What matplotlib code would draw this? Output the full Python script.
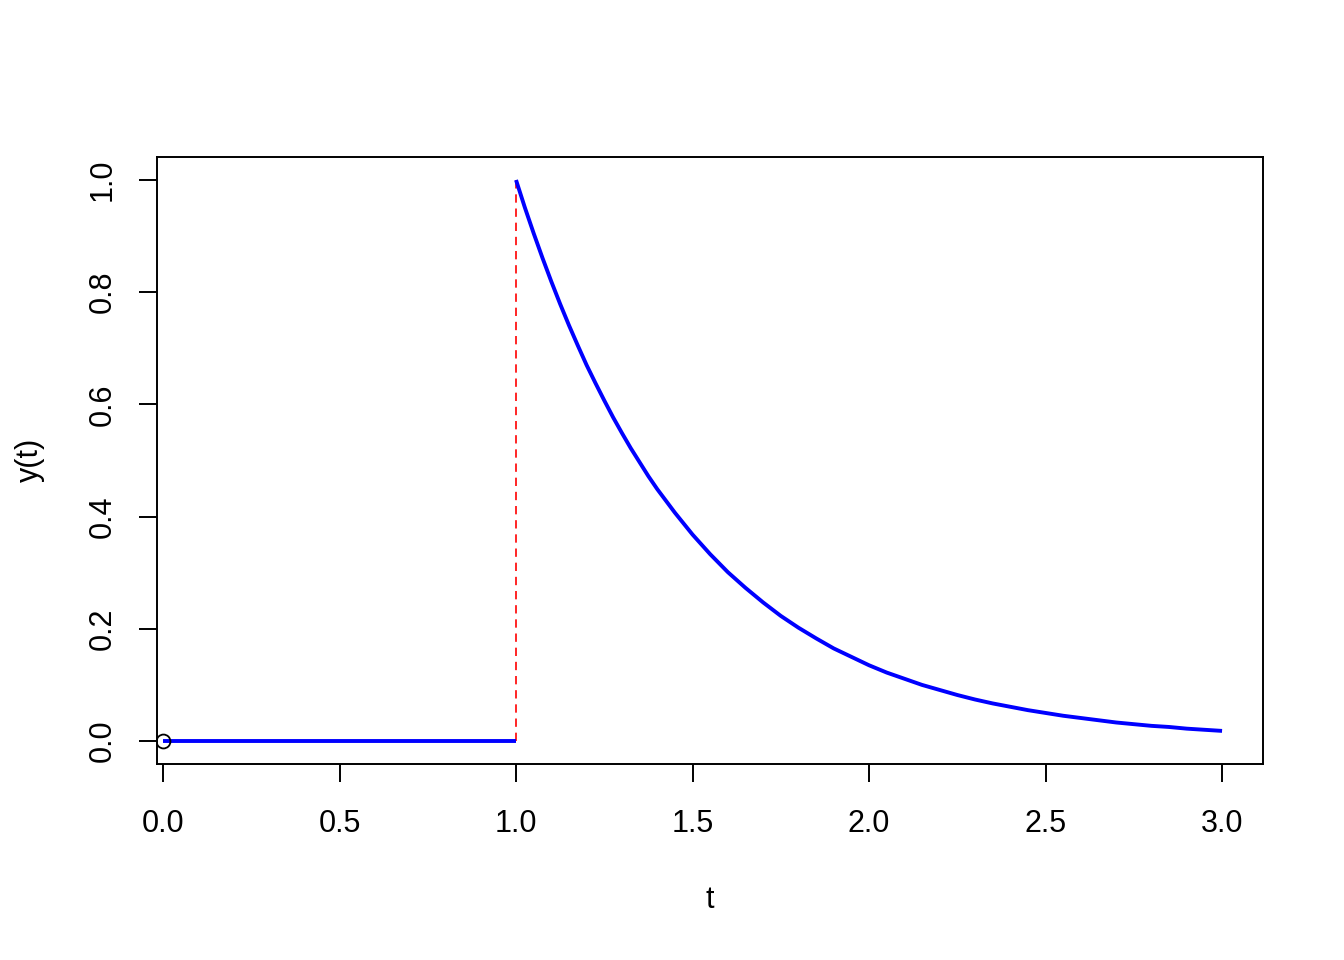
import matplotlib
matplotlib.use("Agg")
import matplotlib.pyplot as plt

plt.rcParams['font.family'] = ['Liberation Sans', 'DejaVu Sans']

# flat part before the jump
t_flat = [0.0, 1.0]
y_flat = [0.0, 0.0]

# decay after the jump
t_decay = [1.000, 1.025, 1.050, 1.075, 1.100, 1.125, 1.150, 1.175, 1.200, 1.225,
           1.250, 1.275, 1.300, 1.325, 1.350, 1.375, 1.40, 1.45,
           1.50, 1.55, 1.60, 1.65, 1.70, 1.75, 1.80, 1.85, 1.90, 1.95,
           2.00, 2.05, 2.10, 2.15, 2.20, 2.25, 2.30, 2.35, 2.40, 2.45,
           2.50, 2.55, 2.60, 2.65, 2.70, 2.75, 2.80, 2.85, 2.90, 2.95, 3.00]
y_decay = [1.000, 0.951, 0.905, 0.861, 0.819, 0.779, 0.741, 0.705, 0.670, 0.638,
           0.607, 0.577, 0.549, 0.522, 0.497, 0.472, 0.449, 0.407,
           0.368, 0.333, 0.301, 0.273, 0.247, 0.223, 0.202, 0.183, 0.165, 0.150,
           0.135, 0.122, 0.111, 0.100, 0.091, 0.082, 0.074, 0.067, 0.061, 0.055,
           0.050, 0.045, 0.041, 0.037, 0.033, 0.030, 0.027, 0.025, 0.022, 0.020, 0.018]

jump_t = 1.0
xticks = [0.0, 0.5, 1.0, 1.5, 2.0, 2.5, 3.0]
yticks = [0.0, 0.2, 0.4, 0.6, 0.8, 1.0]

fig = plt.figure(figsize=(13.44, 9.6), dpi=100)
ax = fig.add_axes([157/1344, 1-764/960, (1263-157)/1344, (764-157)/960])

ax.plot([jump_t, jump_t], [0, 1], color='red', lw=1.2, ls=(0, (5, 3.5)))
ax.plot(t_flat, y_flat, color='blue', lw=2.8, solid_capstyle='butt')
ax.plot(t_decay, y_decay, color='blue', lw=2.8, solid_capstyle='butt',
        solid_joinstyle='round')
ax.plot([0], [0], 'o', mfc='none', mec='black', ms=10, mew=1.3)

ax.set_xlim(-0.017, 3.116)
ax.set_ylim(-0.041, 1.041)
ax.set_xticks(xticks)
ax.set_xticklabels([f"{v:.1f}" for v in xticks])
ax.set_yticks(yticks)
ax.set_yticklabels([f"{v:.1f}" for v in yticks], rotation=90, va='center')
ax.tick_params(direction='out', length=13, width=1.4, labelsize=22, pad=19.5)
ax.tick_params(axis='y', pad=15)
for s in ax.spines.values():
    s.set_linewidth(1.4)

fig.text(710/1344, 1-900/960, "t", ha='center', va='center', fontsize=22)
fig.text(30/1344, 1-460/960, "y(t)", ha='center', va='center', fontsize=22, rotation=90)

fig.savefig("out.png", dpi=100)
